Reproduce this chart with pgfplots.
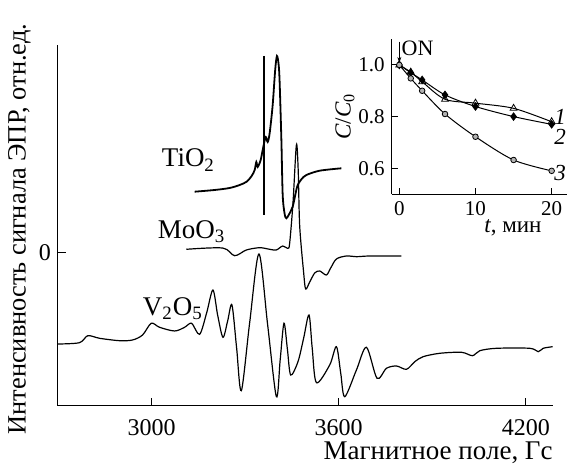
\documentclass[border=0pt]{standalone}
\usepackage{fontspec}
\setmainfont{Liberation Serif}
\usepackage{pgfplots}
\pgfplotsset{compat=1.18}
\usetikzlibrary{arrows.meta}
\begin{document}
\begin{tikzpicture}[x=1pt,y=1pt]
\path[use as bounding box] (0,0) rectangle (285,232.5);
\begin{axis}[at={(29pt,29.5pt)}, anchor=south west, scale only axis,
  width=247.5pt, height=180.5pt,
  xmin=2700, xmax=4287, ymin=-153, ymax=208,
  axis lines=left, axis line style={-, line width=0.5pt},
  tick align=inside, major tick length=4pt, tick style={line width=0.5pt, black},
  xtick={3000,3600,4200}, ytick={0},
  /pgf/number format/1000 sep={}, /pgf/number format/assume math mode=true,
  tick label style={font=\rmfamily\fontsize{12}{14}\selectfont},
  xticklabel style={yshift=-3pt},
  xlabel={Магнитное поле, Гс},
  xlabel style={at={(axis description cs:1,-0.130)}, anchor=east, inner sep=0pt, font=\rmfamily\fontsize{13.5}{16}\selectfont},
  ylabel={Интенсивность сигнала ЭПР, отн.ед.},
  ylabel style={at={(axis description cs:-0.078,0.49)}, anchor=center, inner sep=0pt, font=\rmfamily\fontsize{13.2}{16}\selectfont},
  clip=false]
% V2O5
\addplot[smooth, line width=0.6pt, black] coordinates {
(2700,-91)(2768.9,-89.7)(2795.6,-82.7)(2833.2,-85.3)(2897.3,-87.7)(2939.0,-87)
(2971.1,-82)(2999.0,-70.3)(3025.7,-74.3)(3073.8,-78)(3105.9,-74.3)(3128.3,-70.3)
(3154.0,-81.3)(3176.5,-60)(3196.7,-37)(3211.8,-62)(3228.8,-84.3)(3243.9,-68)
(3257.7,-52)(3272.7,-95)(3287.8,-137.7)(3314.4,-70)(3344.3,-1)(3372.2,-72)
(3400.1,-143.7)(3412.3,-107)(3424.5,-70.3)(3435.4,-96)(3446.0,-122)(3469.4,-108.7)
(3487.7,-85)(3504.7,-62)(3515.0,-95)(3528.5,-129.7)(3571.1,-112)(3592.6,-93.7)
(3606.4,-120)(3619.3,-143.7)(3656.8,-117)(3688.9,-94.3)(3722.9,-125.3)(3753.1,-115.3)
(3785.2,-113)(3817.2,-116.3)(3843.9,-108.7)(3870.5,-103.7)(3924.1,-100.3)(3993.7,-99.3)
(4029.0,-102.7)(4052.4,-97.7)(4106.0,-95.3)(4212.9,-95.3)(4239.5,-98.7)(4255.5,-95.3)
(4285.7,-93.7)};
% MoO3
\addplot[smooth, line width=0.6pt, black] coordinates {
(3111.3,3.7)(3227.8,5)(3266.3,-2.7)(3303.9,3)(3346.5,5.3)(3378.7,3.7)(3400.1,3)
(3420.4,7)(3437.3,4.7)(3442.8,10)(3453.4,50)(3464.3,108)(3470.1,83)(3474.9,27)
(3487.7,-20)(3494.1,-36)(3507.0,-29)(3523.0,-20)(3539.1,-18)(3560.5,-22)(3574.3,-15)
(3592.6,-6)(3624.7,-3)(3656.8,-3.7)(3699.5,-3)(3801.2,-3)};
% TiO2
\addplot[smooth, line width=0.9pt, black] coordinates {
(3138.0,61.3)(3202.1,63)(3250.3,65)(3282.4,68)(3304.8,71.3)(3320.9,77)(3330.5,83)
(3335.9,91)(3340.2,86)(3349.8,93)(3356.2,103)(3365.8,116)(3372.3,111)(3378.7,120)
(3388.3,148)(3396.3,183)(3402.0,197)(3407.5,188)(3410.7,170)(3416.2,113)(3420.4,58)
(3426.7,39)(3432.2,34.7)(3439.6,38)(3452.4,46.3)(3462.0,60)(3468.5,68)(3481.3,74)
(3496.4,78)(3539.1,82.3)(3608.7,84.7)};
\addplot[line width=1pt, black] coordinates {(3359.4,197)(3359.4,38)};
\node[anchor=west, inner sep=0pt, font=\fontsize{13.5}{16}\selectfont] at (axis cs:3032,93) {TiO\textsubscript{2}};
\node[anchor=west, inner sep=0pt, font=\fontsize{13.5}{16}\selectfont] at (axis cs:3019,21) {MoO\textsubscript{3}};
\node[anchor=west, inner sep=0pt, font=\fontsize{13.5}{16}\selectfont] at (axis cs:2971,-56) {V\textsubscript{2}O\textsubscript{5}};
\end{axis}
\begin{axis}[at={(195.85pt,135.45pt)}, anchor=south west, scale only axis,
  width=87.6pt, height=77.5pt,
  xmin=-1, xmax=22, ymin=0.5, ymax=1.1,
  axis lines=left, axis line style={-, line width=0.5pt},
  tick align=inside, major tick length=3pt, tick style={line width=0.5pt, black},
  xtick={0,10,20}, ytick={0.6,0.8,1.0},
  /pgf/number format/assume math mode=true,
  yticklabel style={/pgf/number format/fixed, /pgf/number format/fixed zerofill, /pgf/number format/precision=1},
  tick label style={font=\rmfamily\fontsize{10.5}{12}\selectfont},
  xlabel={\textit{t}, мин},
  xlabel style={at={(axis description cs:0.692,-0.219)}, anchor=center, inner sep=0pt, font=\rmfamily\fontsize{11.5}{13}\selectfont},
  ylabel={\textit{C}/\textit{C}\textsubscript{0}},
  ylabel style={at={(axis description cs:-0.2666,0.5)}, anchor=center, inner sep=0pt, font=\rmfamily\fontsize{11.5}{13}\selectfont},
  clip=false]
\addplot[smooth, line width=0.5pt, black, mark=triangle, mark size=2pt, mark options={fill=white, line width=0.4pt}] coordinates {(0,1.0)(1.5,0.972)(3,0.935)(6,0.867)(10,0.852)(15,0.832)(20,0.78)};
\addplot[smooth, line width=0.5pt, black, mark=diamond*, mark size=1.8pt, mark options={fill=black}] coordinates {(0,1.0)(1.5,0.97)(3,0.942)(6,0.884)(10,0.839)(15,0.80)(20,0.77)};
\addplot[smooth, line width=0.5pt, black, mark=*, mark size=1.4pt, mark options={fill=gray!60, line width=0.4pt}] coordinates {(0,1.0)(1.5,0.948)(3,0.90)(6,0.81)(10,0.722)(15,0.632)(20,0.59)};
\node[font=\fontsize{11.5}{13}\selectfont\itshape] at (axis cs:21.1,0.80) {1};
\node[font=\fontsize{11.5}{13}\selectfont\itshape] at (axis cs:21.1,0.722) {2};
\node[font=\fontsize{11.5}{13}\selectfont\itshape] at (axis cs:21.1,0.58) {3};
\node[anchor=west, inner sep=0pt, font=\fontsize{11}{13}\selectfont] at (axis cs:0.25,1.066) {ON};
\draw[line width=0.4pt, -{Stealth[length=3pt,width=2pt]}] (axis cs:0,1.09) -- (axis cs:0,1.008);
\end{axis}
\end{tikzpicture}
\end{document}
